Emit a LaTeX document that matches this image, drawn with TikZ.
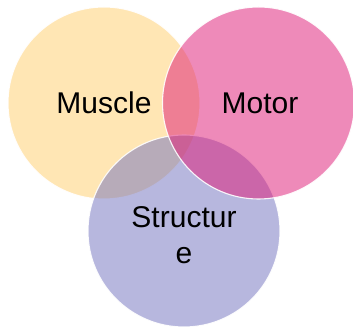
\documentclass[tikz,border=0pt]{standalone}
\usepackage{fontspec}
\setmainfont{Liberation Sans}
\definecolor{muscleC}{HTML}{FFCE6B}
\definecolor{motorC}{HTML}{DF1775}
\definecolor{structC}{HTML}{7171BF}
\tikzset{
  venn/.style={draw=white, line width=1.1pt, fill opacity=0.5, draw opacity=0.9},
  lbl/.style={font=\fontsize{30}{36}\selectfont, text=black, align=center}
}
\begin{document}
\begin{tikzpicture}[x=1pt,y=1pt]
  \useasboundingbox (0,0) rectangle (353,328);
  \fill[white] (0,0) rectangle (353,328);
  % circles, drawn back to front
  \draw[venn, fill=muscleC] (104,225) circle (96);
  \draw[venn, fill=structC] (184,97) circle (96);
  \draw[venn, fill=motorC] (258.5,225) circle (96);
  % labels
  \node[lbl] (muscle) at (104,225) {Muscle};
  \node[lbl] (motor) at (260,225) {Motor};
  \node[lbl] (structure) at (184,93) {Structur\\e};
\end{tikzpicture}
\end{document}
